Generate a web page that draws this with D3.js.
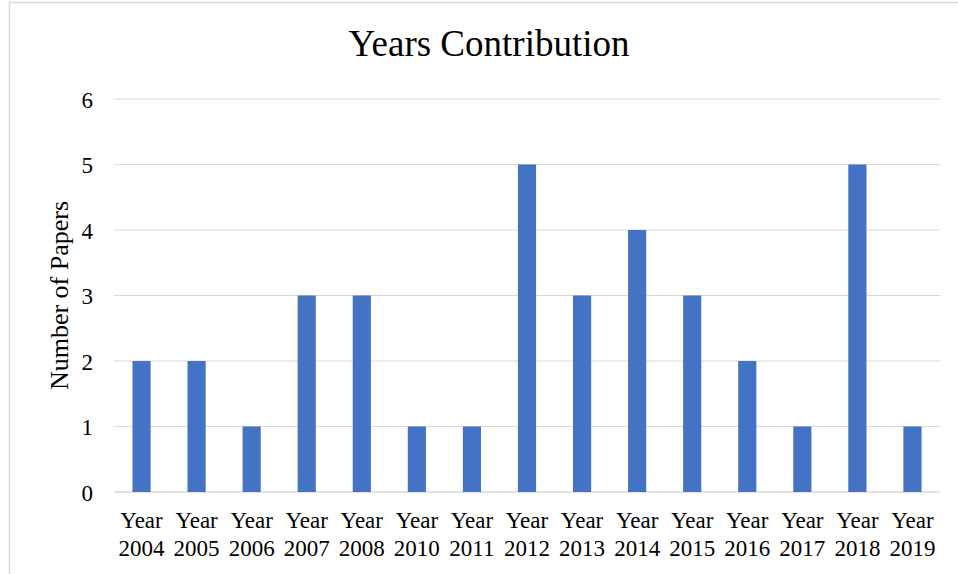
<!DOCTYPE html>
<html>
<head>
<meta charset="utf-8">
<script src="https://cdn.jsdelivr.net/npm/d3@7"></script>
<style>
  html, body { margin: 0; padding: 0; background: #fff; }
  svg { display: block; font-family: "Liberation Serif", "Times New Roman", serif; }
</style>
</head>
<body>
<svg id="chart" width="958" height="574"></svg>
<script>
// Papers per publication year
const years = ["2004", "2005", "2006", "2007", "2008", "2010", "2011", "2012",
               "2013", "2014", "2015", "2016", "2017", "2018", "2019"];
const papers = [2, 2, 1, 3, 3, 1, 1, 5, 3, 4, 3, 2, 1, 5, 1];
const yTicks = [0, 1, 2, 3, 4, 5, 6];

const svg = d3.select("#chart");
const W = 958, H = 574;
const m = { left: 114, right: 18, top: 99, bottom: 82 };

// Chart frame
svg.append("rect")
  .attr("x", 9.5).attr("y", 2.5)
  .attr("width", W + 20).attr("height", H + 20)
  .attr("fill", "#fff").attr("stroke", "#d9d9d9").attr("stroke-width", 1.5);

const x = d3.scaleBand()
  .domain(years)
  .range([m.left, W - m.right])
  .paddingInner(0.67).paddingOuter(0.335);

const y = d3.scaleLinear()
  .domain([0, 6])
  .range([H - m.bottom, m.top]);

// Horizontal gridlines
svg.append("g")
  .selectAll("line")
  .data(yTicks)
  .join("line")
  .attr("x1", m.left).attr("x2", W - m.right)
  .attr("y1", d => y(d)).attr("y2", d => y(d))
  .attr("stroke", "#d9d9d9").attr("stroke-width", d => d === 0 ? 1.5 : 1.2);

// Y axis labels
const yAxis = d3.axisLeft(y).tickValues(yTicks).tickFormat(d3.format("d")).tickSize(0).tickPadding(0);
const gy = svg.append("g").attr("transform", `translate(${m.left - 21},0)`).call(yAxis);
gy.select(".domain").remove();
gy.selectAll("text")
  .attr("font-family", "Liberation Serif, Times New Roman, serif")
  .attr("font-size", 23).attr("fill", "#000").attr("dy", "0.35em");

// Bars
svg.append("g")
  .selectAll("rect")
  .data(years.map((yr, i) => ({ yr, v: papers[i] })))
  .join("rect")
  .attr("x", d => x(d.yr))
  .attr("width", x.bandwidth())
  .attr("y", d => y(d.v))
  .attr("height", d => y(0) - y(d.v))
  .attr("fill", "#4472C4");

// Category labels on two lines
const xl = svg.append("g")
  .selectAll("text")
  .data(years)
  .join("text")
  .attr("x", d => x(d) + x.bandwidth() / 2)
  .attr("text-anchor", "middle")
  .attr("font-size", 23)
  .attr("fill", "#000");
xl.append("tspan").attr("x", d => x(d) + x.bandwidth() / 2).attr("y", 528).text("Year");
xl.append("tspan").attr("x", d => x(d) + x.bandwidth() / 2).attr("y", 556).text(d => d);

// Axis title
svg.append("text")
  .attr("transform", `translate(68,${(y(0) + y(6)) / 2}) rotate(-90)`)
  .attr("text-anchor", "middle")
  .attr("font-size", 26)
  .attr("fill", "#000")
  .text("Number of Papers");

// Chart title
svg.append("text")
  .attr("x", 489).attr("y", 56)
  .attr("text-anchor", "middle")
  .attr("font-size", 37)
  .attr("fill", "#000")
  .text("Years Contribution");
</script>
</body>
</html>
